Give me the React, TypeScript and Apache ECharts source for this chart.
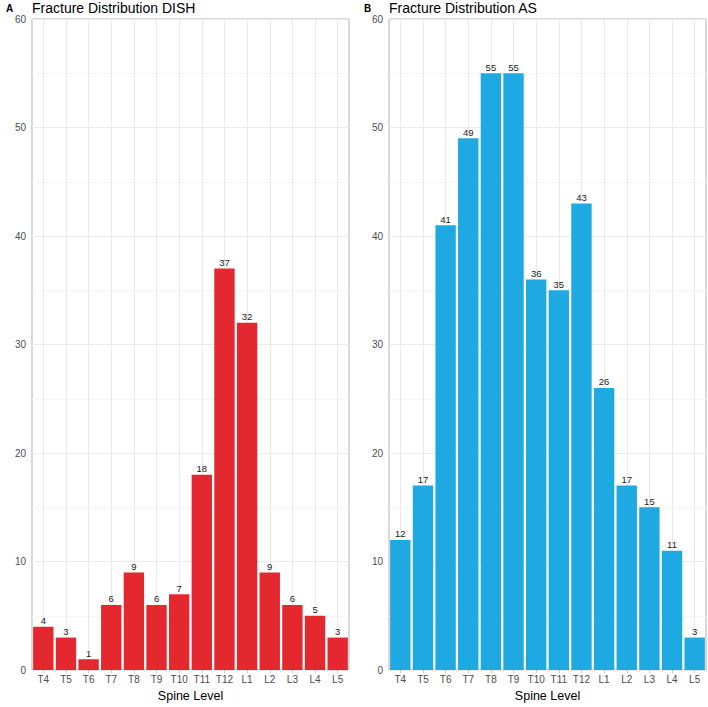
import React, { useEffect, useRef } from "react";
import * as echarts from "echarts";

const categories = ["T4", "T5", "T6", "T7", "T8", "T9", "T10", "T11", "T12", "L1", "L2", "L3", "L4", "L5"];
const dishValues = [4, 3, 1, 6, 9, 6, 7, 18, 37, 32, 9, 6, 5, 3];
const asValues = [12, 17, 41, 49, 55, 55, 36, 35, 43, 26, 17, 15, 11, 3];
const yTicks = { min: 0, max: 60, interval: 10 };
const titles = ["Fracture Distribution DISH", "Fracture Distribution AS"];
const panelTags = ["A", "B"];
const xAxisTitle = "Spine Level";

const FONT = "Liberation Sans, Arial, Helvetica, sans-serif";
const RED = "#E3292F";
const BLUE = "#1EA9E2";

export default function App() {
  const ref = useRef<HTMLDivElement>(null);
  useEffect(() => {
    if (!ref.current) return;
    const chart = echarts.init(ref.current, undefined, { renderer: "svg" });
    const grids = [
      { left: 32, top: 19, width: 317, height: 659 },
      { left: 389, top: 19, width: 317, height: 659 },
    ];
    const mkX = (i: number) => ({
      type: "category",
      gridIndex: i,
      data: categories,
      boundaryGap: true,
      axisLine: { show: false },
      axisTick: { show: true, alignWithLabel: true, length: 3, lineStyle: { color: "#C8C8C8" } },
      axisLabel: { color: "#4D4D4D", fontSize: 10, fontFamily: FONT, margin: 4, interval: 0 },
      splitLine: { show: true, alignWithLabel: true, lineStyle: { color: "#EBEBEB", width: 1 } },
      name: xAxisTitle,
      nameLocation: "middle",
      nameGap: 14,
      nameTextStyle: { color: "#000", fontSize: 12.5, fontFamily: FONT },
    });
    const mkY = (i: number) => ({
      type: "value",
      gridIndex: i,
      min: yTicks.min,
      max: yTicks.max,
      interval: yTicks.interval,
      axisLine: { show: false },
      axisTick: { show: false },
      axisLabel: { color: "#4D4D4D", fontSize: 10, fontFamily: FONT, margin: 6 },
      splitLine: { show: true, lineStyle: { color: "#EBEBEB", width: 1 } },
      minorTick: { show: false, splitNumber: 2 },
      minorSplitLine: { show: true, lineStyle: { color: "#F5F5F5", width: 1 } },
    });
    const mkSeries = (i: number, data: number[], color: string) => ({
      type: "bar",
      xAxisIndex: i,
      yAxisIndex: i,
      data,
      barCategoryGap: "10%",
      itemStyle: { color },
      label: {
        show: true,
        position: "top",
        distance: 1,
        color: "#1A1A1A",
        fontSize: 9.5,
        fontFamily: FONT,
      },
    });
    chart.setOption({
      animation: false,
      backgroundColor: "#fff",
      grid: grids.map((g) => ({ ...g, show: true, borderColor: "#B3B3B3", borderWidth: 1, backgroundColor: "transparent" })),
      xAxis: [mkX(0), mkX(1)],
      yAxis: [mkY(0), mkY(1)],
      series: [mkSeries(0, dishValues, RED), mkSeries(1, asValues, BLUE)],
      graphic: [
        { type: "text", x: 6, y: 8, style: { text: panelTags[0], font: `bold 10px ${FONT}`, fill: "#000", verticalAlign: "middle" } },
        { type: "text", x: 364, y: 8, style: { text: panelTags[1], font: `bold 10px ${FONT}`, fill: "#000", verticalAlign: "middle" } },
        { type: "text", x: 32, y: 8, style: { text: titles[0], font: `14px ${FONT}`, fill: "#000", verticalAlign: "middle" } },
        { type: "text", x: 389, y: 8, style: { text: titles[1], font: `14px ${FONT}`, fill: "#000", verticalAlign: "middle" } },
      ],
    });
    return () => chart.dispose();
  }, []);
  return <div ref={ref} style={{ position: "fixed", left: 0, top: 0, width: 708, height: 707 }} />;
}
